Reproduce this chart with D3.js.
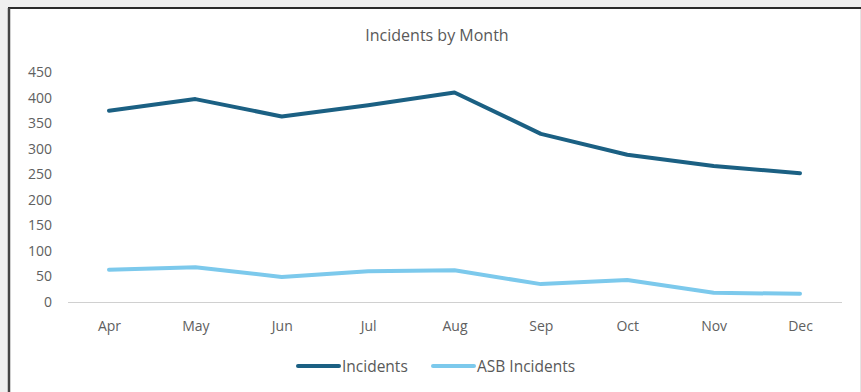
<!DOCTYPE html>
<html>
<head>
<meta charset="utf-8">
<script src="https://cdn.jsdelivr.net/npm/d3@7"></script>
<style>
  body { margin: 0; background: #efefef; }
  svg { display: block; }
</style>
</head>
<body>
<svg width="861" height="392"></svg>
<script>
// chart data
var months = ["Apr", "May", "Jun", "Jul", "Aug", "Sep", "Oct", "Nov", "Dec"];
var incidents = [374, 397, 363, 385, 410, 329, 288, 266, 252];
var asbIncidents = [63, 68, 49, 60, 62, 35, 43, 18, 16];
var yTicks = [0, 50, 100, 150, 200, 250, 300, 350, 400, 450];

var seriesNames = ["Incidents", "ASB Incidents"];
var seriesColors = ["#1b6083", "#7cc9ec"];

var svg = d3.select("svg");
var width = +svg.attr("width");
var height = +svg.attr("height");

var font = "'Open Sans', 'Noto Sans', sans-serif";

// white panel with dark frame
svg.append("rect")
   .attr("x", 9).attr("y", 8)
   .attr("width", 851).attr("height", 400)
   .style("fill", "white");
svg.append("line")
   .attr("x1", 8).attr("x2", width).attr("y1", 8).attr("y2", 8)
   .style("stroke", "#2b2b2b").style("stroke-width", 2);
svg.append("line")
   .attr("x1", 9).attr("x2", 9).attr("y1", 8).attr("y2", height)
   .style("stroke", "#444").style("stroke-width", 2.5);
svg.append("line")
   .attr("x1", 860.5).attr("x2", 860.5).attr("y1", 9).attr("y2", height)
   .style("stroke", "#e4e4e4").style("stroke-width", 1);

// scales
var x = d3.scalePoint()
          .domain(months)
          .range([109, 800]);

var y = d3.scaleLinear()
          .domain([0, 450])
          .range([302, 72]);

// title
svg.append("text")
   .attr("x", 437).attr("y", 41)
   .attr("text-anchor", "middle")
   .style("font-family", font)
   .style("font-size", "16px")
   .style("fill", "#595959")
   .text("Incidents by Month");

// y axis labels
var yAxis = svg.append("g")
               .attr("transform", "translate(52,0)")
               .call(d3.axisLeft(y).tickValues(yTicks).tickSize(0).tickPadding(0));
yAxis.select(".domain").remove();
yAxis.selectAll("text")
     .style("font-family", font)
     .style("font-size", "14px")
     .style("fill", "#606060");

// baseline
svg.append("line")
   .attr("x1", 68).attr("x2", 842)
   .attr("y1", y(0) + 0.5).attr("y2", y(0) + 0.5)
   .style("stroke", "#d0d0d0").style("stroke-width", 1);

// x axis labels
var xAxis = svg.append("g")
               .attr("transform", "translate(0," + (y(0) + 19) + ")")
               .call(d3.axisBottom(x).tickSize(0).tickPadding(0));
xAxis.select(".domain").remove();
xAxis.selectAll("text")
     .style("font-family", font)
     .style("font-size", "14px")
     .style("fill", "#606060");

// lines
var line = d3.line()
             .x(function(d, i) { return x(months[i]); })
             .y(function(d) { return y(d); });

[incidents, asbIncidents].forEach(function(values, i) {
  svg.append("path")
     .datum(values)
     .attr("d", line)
     .style("fill", "none")
     .style("stroke", seriesColors[i])
     .style("stroke-width", 4)
     .style("stroke-linecap", "round")
     .style("stroke-linejoin", "round");
});

// legend
var legendX = [297, 432];
var legend = svg.append("g")
                .selectAll("g")
                .data(seriesNames)
                .enter()
                .append("g")
                .attr("transform", function(d, i) { return "translate(" + legendX[i] + ",366)"; });

legend.append("line")
      .attr("x1", 1).attr("x2", 42)
      .style("stroke", function(d, i) { return seriesColors[i]; })
      .style("stroke-width", 4)
      .style("stroke-linecap", "round");

legend.append("text")
      .attr("x", 45).attr("y", 5.5)
      .style("font-family", font)
      .style("font-size", "15.5px")
      .style("fill", "#595959")
      .text(function(d) { return d; });
</script>
</body>
</html>
